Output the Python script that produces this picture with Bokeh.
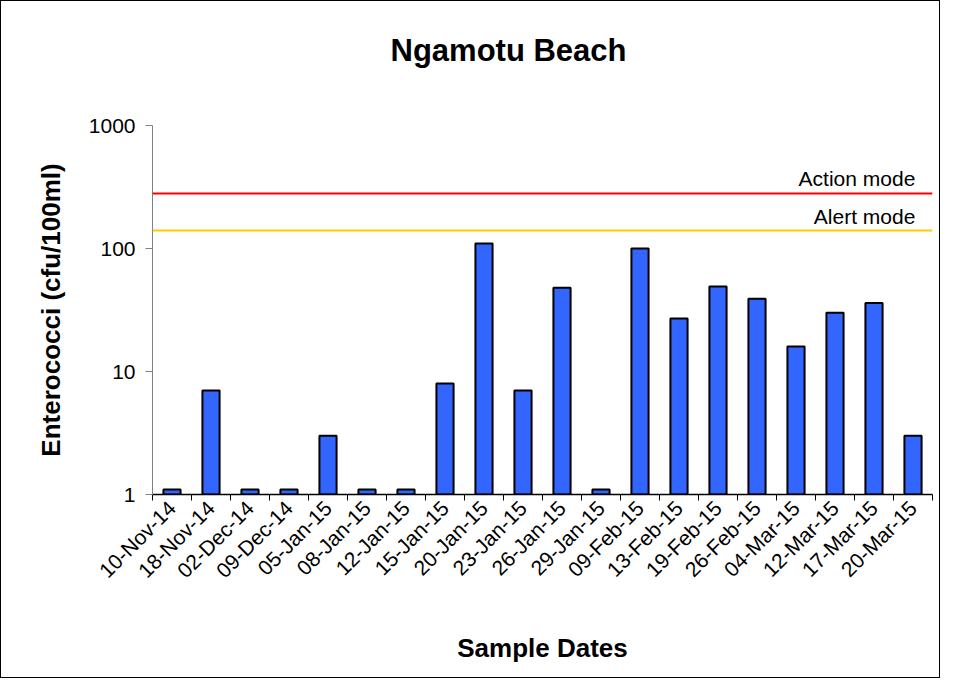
from math import pi
from bokeh.plotting import figure
from bokeh.models import Range1d, FixedTicker, Span, Label, Title, LinearAxis
from bokeh.embed import file_html
from bokeh.resources import INLINE

dates = ["10-Nov-14", "18-Nov-14", "02-Dec-14", "09-Dec-14", "05-Jan-15", "08-Jan-15",
         "12-Jan-15", "15-Jan-15", "20-Jan-15", "23-Jan-15", "26-Jan-15", "29-Jan-15",
         "09-Feb-15", "13-Feb-15", "19-Feb-15", "26-Feb-15", "04-Mar-15", "12-Mar-15",
         "17-Mar-15", "20-Mar-15"]
enterococci = [1.1, 7, 1.1, 1.1, 3, 1.1, 1.1, 8, 110, 7, 48, 1.1, 100, 27, 49, 39, 16, 30, 36, 3]
action_level = 280
alert_level = 140
y_ticks = [1, 10, 100, 1000]

FONT = "Liberation Sans"
n = len(dates)
centers = [i + 0.5 for i in range(n)]
bounds = list(range(n + 1))

p = figure(width=940, height=678, output_backend="svg", toolbar_location=None,
           x_range=Range1d(0, n), y_range=Range1d(1, 1000), y_axis_type="log",
           min_border_left=151, min_border_right=9, min_border_top=124, min_border_bottom=185)
p.styles = {"border": "1px solid black"}
p.outline_line_color = None
p.grid.visible = False
p.background_fill_color = "white"
p.border_fill_color = "white"

p.vbar(x=centers, top=enterococci, bottom=1, width=0.44,
       fill_color="#3366FF", line_color="black", line_width=2)

p.add_layout(Span(location=action_level, dimension="width", line_color="#FF0000", line_width=2))
p.add_layout(Span(location=alert_level, dimension="width", line_color="#FFCC00", line_width=2))
p.add_layout(Label(x=19.56, y=action_level, text="Action mode", text_align="right",
                   text_baseline="bottom", y_offset=3, text_font=FONT, text_font_size="21px",
                   text_color="black"))
p.add_layout(Label(x=19.56, y=alert_level, text="Alert mode", text_align="right",
                   text_baseline="bottom", y_offset=3, text_font=FONT, text_font_size="21px",
                   text_color="black"))

xa = p.below[0]
xa.ticker = FixedTicker(ticks=centers, minor_ticks=bounds)
xa.major_label_overrides = {c: d for c, d in zip(centers, dates)}
xa.major_tick_line_color = None
xa.minor_tick_line_color = "black"
xa.minor_tick_out = 6
xa.minor_tick_in = 0
xa.axis_line_color = "black"
xa.axis_line_width = 1.5
xa.major_label_orientation = pi / 4
xa.major_label_text_font = FONT
xa.major_label_text_font_size = "21px"
xa.major_label_text_color = "black"
xa.major_label_standoff = 4
xa.axis_label = "Sample Dates"
xa.axis_label_text_font = FONT
xa.axis_label_text_font_size = "26px"
xa.axis_label_text_font_style = "bold"
xa.axis_label_text_color = "black"
xa.axis_label_standoff = 40

ya = p.left[0]
ya.ticker = FixedTicker(ticks=y_ticks, minor_ticks=[])
ya.major_label_overrides = {t: str(t) for t in y_ticks}
ya.axis_line_color = "#808080"
ya.major_tick_line_color = "#808080"
ya.minor_tick_line_color = None
ya.major_tick_out = 7
ya.major_tick_in = 0
ya.major_label_text_font = FONT
ya.major_label_text_font_size = "21px"
ya.major_label_text_color = "black"
ya.major_label_standoff = 10
ya.axis_label = "Enterococci (cfu/100ml)"
ya.axis_label_text_font = FONT
ya.axis_label_text_font_size = "26px"
ya.axis_label_text_font_style = "bold"
ya.axis_label_text_color = "black"
ya.axis_label_standoff = 20

# invisible spacer axis above the frame (one white tick on white), so the title sits higher
spacer = LinearAxis(ticker=FixedTicker(ticks=[10], minor_ticks=[]), axis_line_color=None,
                    major_tick_line_color="white", minor_tick_line_color=None,
                    major_tick_out=53, major_tick_in=0, major_label_standoff=0,
                    major_label_overrides={10: ""}, major_label_text_font_size="0px")
p.add_layout(spacer, "above")

p.title = Title(text="Ngamotu Beach", align="left", offset=238, text_font=FONT,
                text_font_size="31px", text_font_style="bold", text_color="black")

open("out.html", "w").write(file_html(p, INLINE))
